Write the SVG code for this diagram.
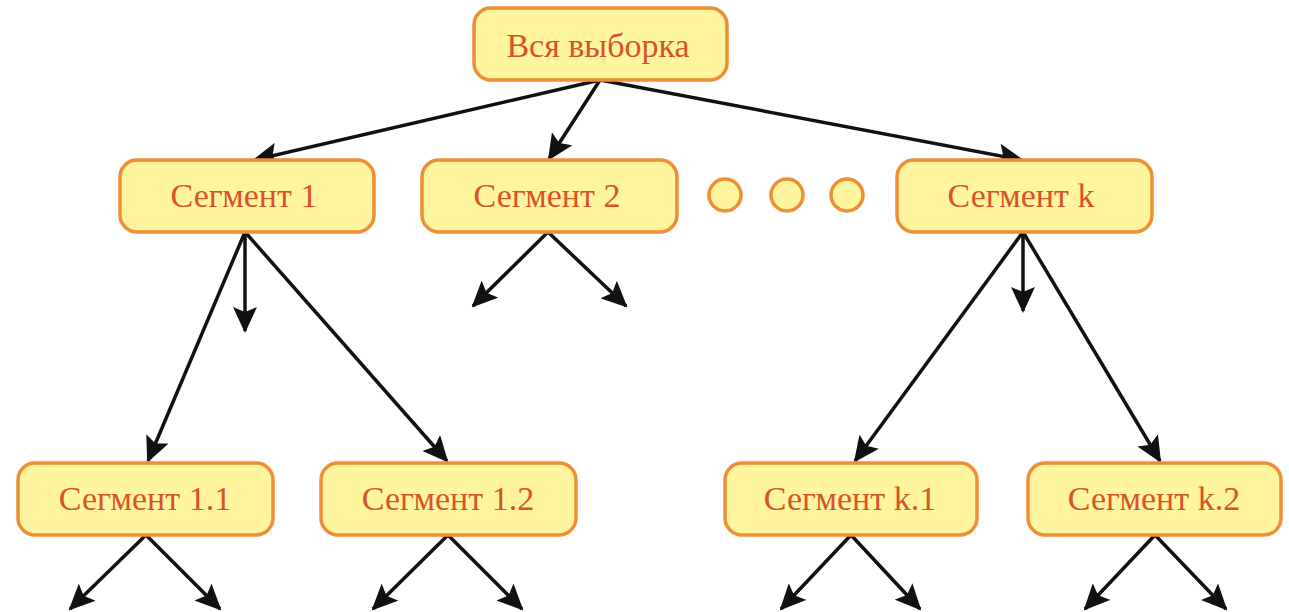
<svg xmlns="http://www.w3.org/2000/svg" width="1289" height="612" viewBox="0 0 1289 612">
<defs>
<style>
.box{fill:#FFF59E;stroke:#EE8F35;stroke-width:3.5}
.lbl{font-family:"Liberation Serif","Times New Roman",serif;font-size:34px;fill:#D8532A;text-anchor:middle;dominant-baseline:central}
.dot{fill:#FFF59E;stroke:#EE8F35;stroke-width:3.5}
.edge{stroke:#111;stroke-width:3.5;fill:none;marker-end:url(#ah)}
</style>
<marker id="ah" markerUnits="userSpaceOnUse" markerWidth="26" markerHeight="24" viewBox="0 0 26 24" refX="24" refY="12" orient="auto">
<path d="M0,0 L26,12 L0,24 L5,12 z" fill="#111"/>
</marker>
</defs>
<rect width="1289" height="612" fill="#fff"/>
<g id="connectors">
<line class="edge" x1="600" y1="80" x2="254" y2="160"/>
<line class="edge" x1="600" y1="80" x2="549" y2="159"/>
<line class="edge" x1="600" y1="80" x2="1022" y2="160"/>
<line class="edge" x1="245" y1="232" x2="148" y2="461"/>
<line class="edge" x1="245" y1="232" x2="245" y2="331"/>
<line class="edge" x1="245" y1="232" x2="447" y2="461"/>
<line class="edge" x1="548" y1="232" x2="473" y2="306"/>
<line class="edge" x1="548" y1="232" x2="626" y2="306"/>
<line class="edge" x1="1023" y1="232" x2="855" y2="461"/>
<line class="edge" x1="1023" y1="232" x2="1023" y2="311"/>
<line class="edge" x1="1023" y1="232" x2="1160" y2="461"/>
<line class="edge" x1="146" y1="535" x2="70" y2="609"/>
<line class="edge" x1="146" y1="535" x2="220" y2="609"/>
<line class="edge" x1="448" y1="535" x2="373" y2="609"/>
<line class="edge" x1="448" y1="535" x2="522" y2="609"/>
<line class="edge" x1="851" y1="535" x2="781" y2="609"/>
<line class="edge" x1="851" y1="535" x2="920" y2="609"/>
<line class="edge" x1="1155" y1="535" x2="1085" y2="609"/>
<line class="edge" x1="1155" y1="535" x2="1226" y2="609"/>
</g>
<g id="root"><rect class="box" x="474" y="8" width="253" height="72" rx="17"/><text class="lbl" x="598" y="45">Вся выборка</text></g>
<g id="seg1"><rect class="box" x="120" y="160" width="254" height="72" rx="17"/><text class="lbl" x="244" y="195">Сегмент 1</text></g>
<g id="seg2"><rect class="box" x="422" y="160" width="255" height="72" rx="17"/><text class="lbl" x="547" y="195">Сегмент 2</text></g>
<g id="ellipsis"><circle class="dot" cx="725" cy="195" r="16"/><circle class="dot" cx="787" cy="195" r="16"/><circle class="dot" cx="847" cy="195" r="16"/></g>
<g id="segk"><rect class="box" x="897" y="160" width="255" height="72" rx="17"/><text class="lbl" x="1021" y="195">Сегмент k</text></g>
<g id="seg11"><rect class="box" x="18" y="463" width="255" height="72" rx="17"/><text class="lbl" x="145" y="498">Сегмент 1.1</text></g>
<g id="seg12"><rect class="box" x="321" y="463" width="255" height="72" rx="17"/><text class="lbl" x="448" y="498">Сегмент 1.2</text></g>
<g id="segk1"><rect class="box" x="725" y="463" width="252" height="72" rx="17"/><text class="lbl" x="850" y="498">Сегмент k.1</text></g>
<g id="segk2"><rect class="box" x="1028" y="463" width="253" height="72" rx="17"/><text class="lbl" x="1154" y="498">Сегмент k.2</text></g>
</svg>
